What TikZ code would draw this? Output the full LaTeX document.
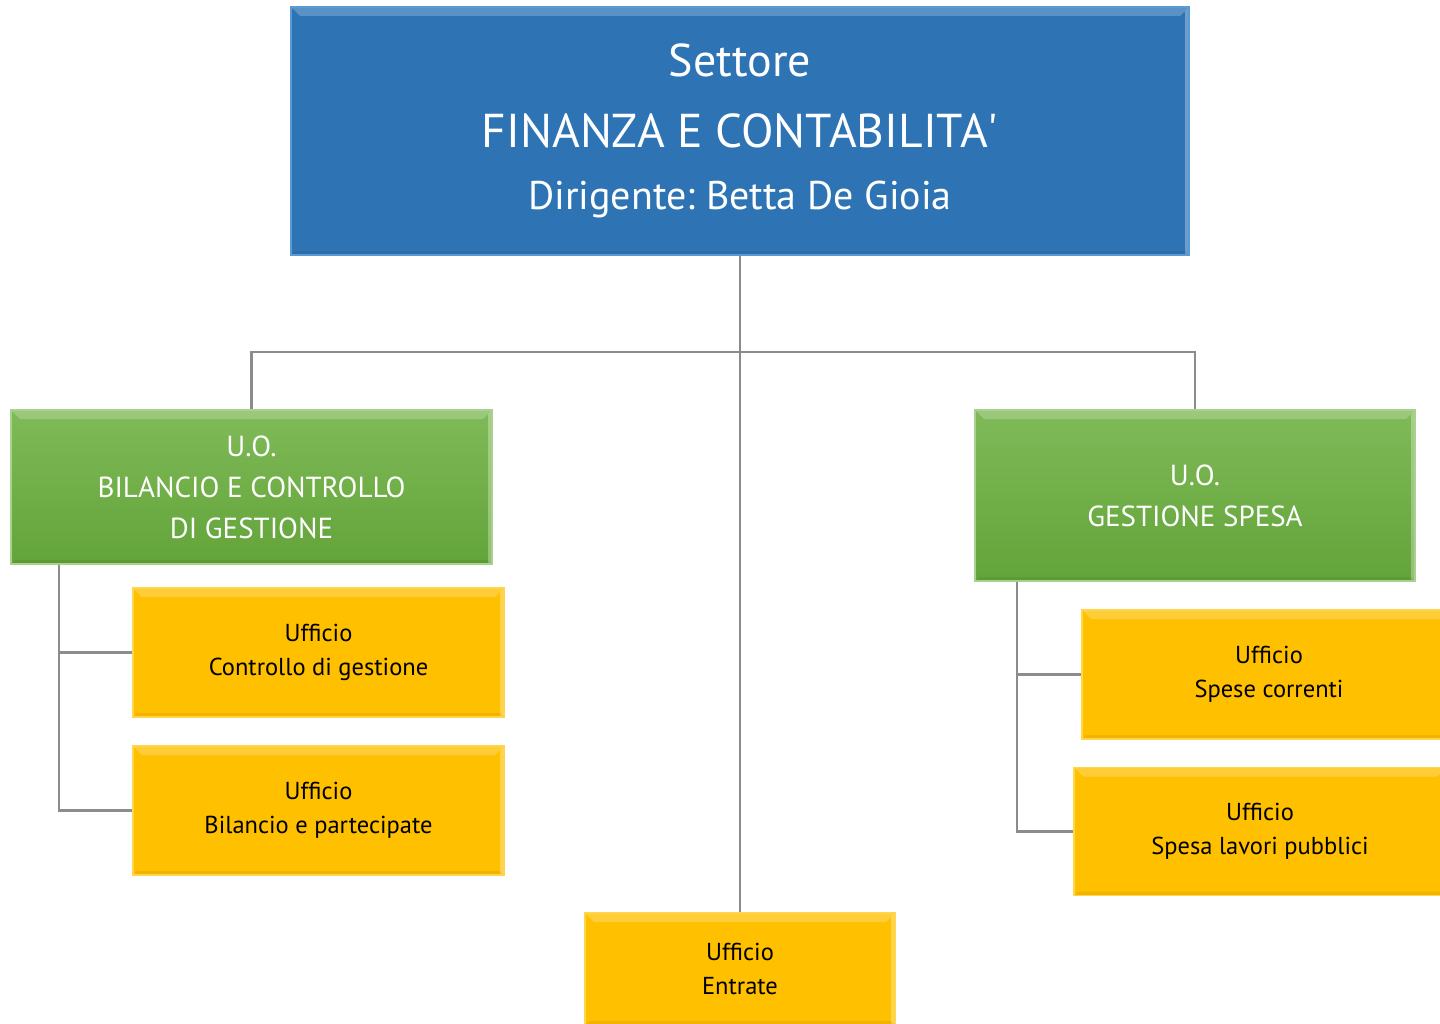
\documentclass[tikz,border=0pt]{standalone}
\usepackage{fontspec}
\setmainfont{PT Sans}
\newfontfamily\diritto{PT Sans}[Ligatures=TeXOff]
\usetikzlibrary{positioning}

\definecolor{settoreblu}{HTML}{2E74B5}
\definecolor{settorebordo}{HTML}{5B9BD5}
\definecolor{unitasu}{HTML}{7FBA58}
\definecolor{unitagiu}{HTML}{63A43A}
\definecolor{unitabordo}{HTML}{A9D18E}
\definecolor{ufficiogiallo}{HTML}{FFC000}
\definecolor{ufficiobordo}{HTML}{FFD54A}
\definecolor{filogrigio}{HTML}{8C8C8C}

\tikzset{
  rilievo/.style={path picture={
      \fill[white,opacity=.22] (path picture bounding box.north west) -- (path picture bounding box.north east)
        -- ([xshift=-9pt,yshift=-9pt]path picture bounding box.north east) -- ([xshift=9pt,yshift=-9pt]path picture bounding box.north west) -- cycle;
      \fill[white,opacity=.30] (path picture bounding box.north east) -- (path picture bounding box.south east)
        -- ([xshift=-4pt]path picture bounding box.south east) -- ([xshift=-4pt,yshift=-4pt]path picture bounding box.north east) -- cycle;
      \fill[black,opacity=.06] (path picture bounding box.south west) -- (path picture bounding box.south east)
        -- ([xshift=-4pt,yshift=4pt]path picture bounding box.south east) -- ([xshift=4pt,yshift=4pt]path picture bounding box.south west) -- cycle;
    }},
  settore/.style={rilievo, draw=settorebordo, line width=1.5pt, fill=settoreblu, text=white,
    minimum width=898pt, minimum height=248pt, align=center, inner sep=0pt},
  unita/.style={rilievo, draw=unitabordo, line width=1.5pt, top color=unitasu, bottom color=unitagiu, text=white,
    align=center, inner sep=0pt, font=\fontsize{29}{41}\selectfont},
  ufficio/.style={rilievo, draw=ufficiobordo, line width=1.5pt, fill=ufficiogiallo, text=black,
    align=center, inner sep=0pt, minimum height=129pt, font=\fontsize{24.5}{34}\selectfont},
  filo/.style={draw=filogrigio, line width=2.2pt}
}

\begin{document}
\begin{tikzpicture}[x=1pt,y=-1pt]
  \useasboundingbox[fill=white] (0,0) rectangle (1440,1024);

  % settore
  \node[settore] (settore) at (740,131)
    {\fontsize{46}{46}\selectfont Settore\\[36pt]
     \fontsize{47.5}{47.5}\selectfont FINANZA E CONTABILITA{\diritto '}\\[32pt]
     \fontsize{40}{40}\selectfont Dirigente:\ Betta De Gioia};

  % unita' operative
  \node[unita, minimum width=481pt, minimum height=154pt] (bilancio) at (251.5,487)
    {U.O.\\BILANCIO E CONTROLLO\\DI GESTIONE};
  \node[unita, minimum width=440pt, minimum height=171pt] (spesa) at (1195,495.5)
    {U.O.\\GESTIONE SPESA};

  % uffici
  \node[ufficio, minimum width=371pt] (controllo) at (318.5,652.5)
    {Ufficio\\Controllo di gestione};
  \node[ufficio, minimum width=371pt] (partecipate) at (318.5,810.5)
    {Ufficio\\Bilancio e partecipate};
  \node[ufficio, minimum width=374pt] (correnti) at (1269,674.5)
    {Ufficio\\Spese correnti};
  \node[ufficio, minimum width=372pt, minimum height=128pt] (lavori) at (1260,831.5)
    {Ufficio\\Spesa lavori pubblici};
  \node[ufficio, minimum width=310pt, minimum height=112pt] (entrate) at (740,969)
    {Ufficio\\Entrate};

  % collegamenti
  \coordinate (snodo) at (740,352);
  \draw[filo] (settore.south) -- (entrate.north);
  \draw[filo] (bilancio.north) |- (snodo) -| (spesa.north);
  \draw[filo] ([xshift=49pt]bilancio.south west) |- (controllo.west);
  \draw[filo] ([xshift=49pt]bilancio.south west) |- (partecipate.west);
  \draw[filo] ([xshift=43pt]spesa.south west) |- (correnti.west);
  \draw[filo] ([xshift=43pt]spesa.south west) |- (lavori.west);
\end{tikzpicture}
\end{document}
